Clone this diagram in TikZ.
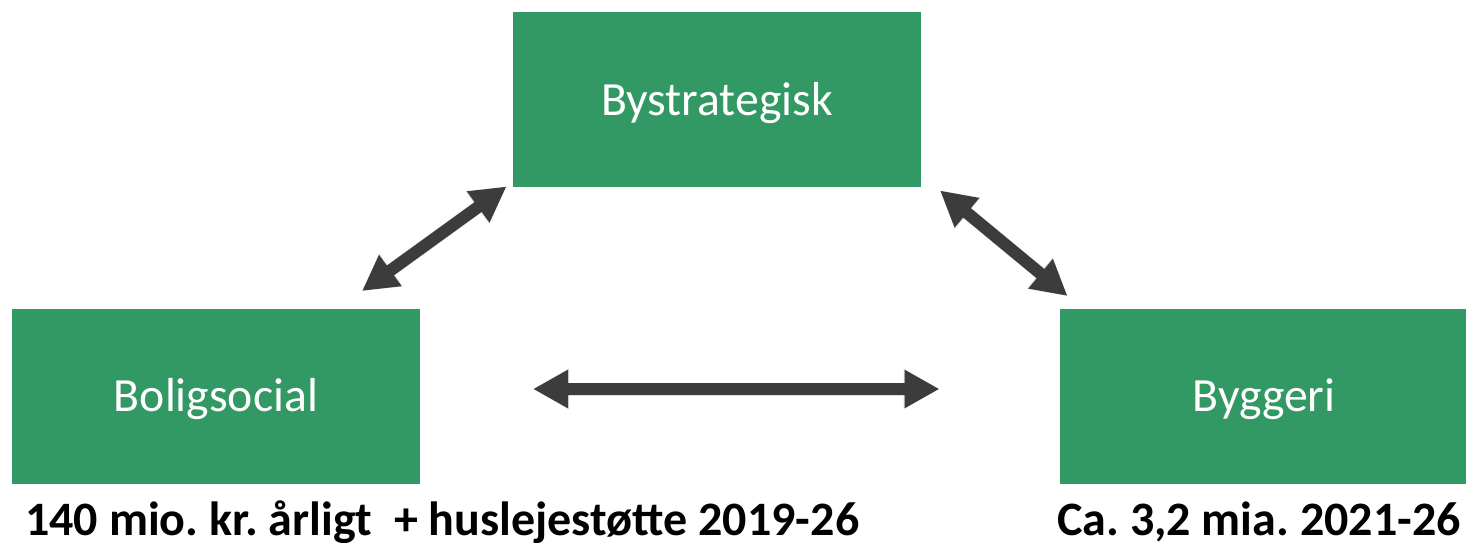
\documentclass[tikz,border=0pt]{standalone}
\usepackage{fontspec}
\setmainfont{Carlito}
\usetikzlibrary{arrows.meta}
\definecolor{boxgreen}{HTML}{329864}
\definecolor{arrowgray}{HTML}{3C3C3C}
\frenchspacing
\begin{document}
\begin{tikzpicture}[x=1pt,y=-1pt,
  greenbox/.style={fill=boxgreen,draw=none,minimum width=408pt,minimum height=175pt,
    inner sep=0pt,text=white,font=\fontsize{47.7}{57}\selectfont,text height=31pt,text depth=0pt},
  sumtext/.style={inner sep=0pt,font=\bfseries\fontsize{48}{58}\selectfont,text=black},
  biarrow/.style={draw=arrowgray,line width=12pt,
    {Triangle[length=35pt,width=36pt]}-{Triangle[length=35pt,width=36pt]}},
  biarrowshadow/.style={draw=black,line width=13pt,opacity=0.12,
    {Triangle[length=36pt,width=38pt]}-{Triangle[length=36pt,width=38pt]}}]
\useasboundingbox (0,0) rectangle (1466,543);
\fill[white] (0,0) rectangle (1466,543);
% boxes
\node[greenbox] (by) at (717,99.5) {Bystrategisk};
\node[greenbox] (bo) at (216,396) {Boligsocial};
\node[greenbox] (bg) at (1264,396) {Byggeri};
% amounts
\node[sumtext,anchor=base west] (t1) at (25,535) {140 mio. kr. årligt\ \ + huslejestøtte 2019-26};
\node[sumtext,anchor=base east] (t2) at (1461,535) {Ca. 3,2 mia. 2021-26};
% arrow end points
\coordinate (a1s) at (362,291);
\coordinate (a1e) at (506.5,186.5);
\coordinate (a2s) at (940,190.5);
\coordinate (a2e) at (1067.5,296);
\coordinate (a3s) at (533,389);
\coordinate (a3e) at (939.5,389);
% shadows
\begin{scope}[shift={(2,3)}]
\draw[biarrowshadow] (a1s) -- (a1e);
\draw[biarrowshadow] (a2s) -- (a2e);
\draw[biarrowshadow] (a3s) -- (a3e);
\end{scope}
% arrows
\draw[biarrow] (a1s) -- (a1e);
\draw[biarrow] (a2s) -- (a2e);
\draw[biarrow] (a3s) -- (a3e);
\end{tikzpicture}
\end{document}
